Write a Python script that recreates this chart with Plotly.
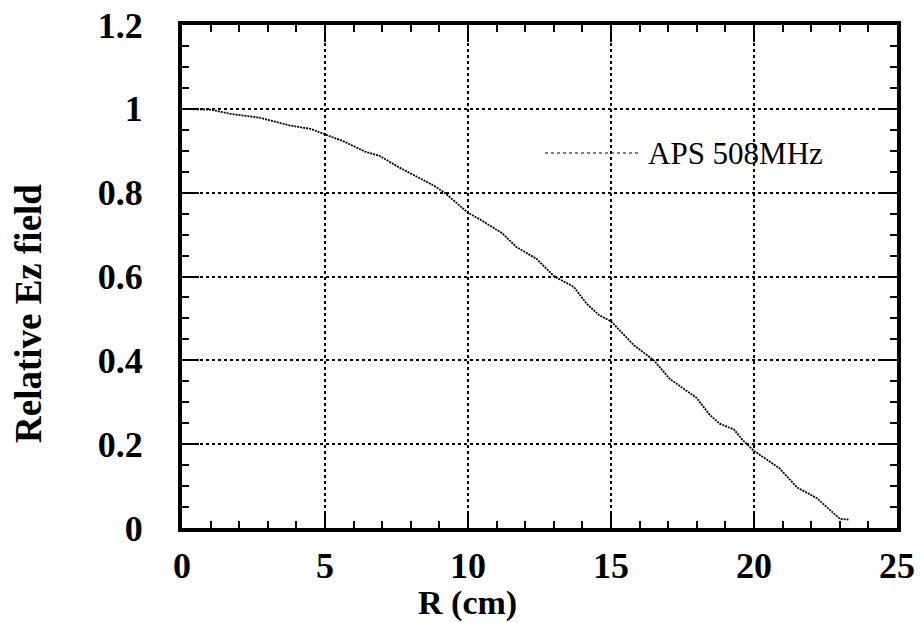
import plotly.graph_objects as go

series_name = "APS 508MHz"
r_cm = [0, 1.0, 1.7, 2.7, 3.8, 4.5, 5.0, 5.6, 6.4, 6.9, 7.6, 8.3, 8.8, 9.2, 10.0, 10.4,
        10.9, 11.2, 11.7, 12.4, 13.0, 13.7, 14.15, 14.6, 15.0, 15.3, 15.8, 16.5, 17.05,
        18.0, 18.45, 18.8, 19.3, 19.6, 20.0, 20.9, 21.5, 22.2, 22.9, 23.0, 23.3]
ez_rel = [1.0, 0.998, 0.988, 0.979, 0.960, 0.952, 0.939, 0.924, 0.898, 0.888, 0.860, 0.836,
          0.817, 0.799, 0.752, 0.737, 0.717, 0.703, 0.670, 0.642, 0.601, 0.575, 0.535, 0.507,
          0.493, 0.471, 0.436, 0.400, 0.356, 0.310, 0.270, 0.249, 0.235, 0.210, 0.184, 0.142,
          0.097, 0.071, 0.030, 0.022, 0.020]
x_ticks = [0, 5, 10, 15, 20, 25]
y_ticks = [0, 0.2, 0.4, 0.6, 0.8, 1, 1.2]
y_tick_text = ["0", "0.2", "0.4", "0.6", "0.8", "1", "1.2"]

FONT = "Liberation Serif, Times New Roman, serif"

L, T, R, B = 182, 25, 23, 95
W, H = 920, 623
PW, PH = W - L - R, H - T - B


def px(xs):
    return (xs - L) / PW


def py(ys):
    return (H - B - ys) / PH


fig = go.Figure()
fig.add_trace(go.Scatter(
    x=r_cm, y=ez_rel, mode="lines", name=series_name, showlegend=False,
    line=dict(color="black", width=1.8, dash="2px,1px"),
))

axis_common = dict(
    showline=True, linewidth=4, linecolor="black", mirror="ticks",
    ticks="inside", ticklen=17, tickwidth=1.5, tickcolor="black",
    showgrid=True, gridcolor="black", gridwidth=1.5, griddash="dot",
    zeroline=False,
    tickfont=dict(family=FONT, size=36, color="black", weight="bold"),
)

fig.update_xaxes(
    range=[0, 25], tickvals=x_ticks, ticktext=[str(v) for v in x_ticks],
    minor=dict(dtick=1, ticks="inside", ticklen=7, tickwidth=1.5, tickcolor="black", showgrid=False),
    ticklabelstandoff=3,
    **axis_common,
)
fig.update_yaxes(
    range=[0, 1.2], tickvals=y_ticks, ticktext=y_tick_text,
    minor=dict(dtick=0.05, ticks="inside", ticklen=7, tickwidth=1.5, tickcolor="black", showgrid=False),
    ticklabelstandoff=28,
    **axis_common,
)

# legend-like sample and label
fig.add_shape(type="line", xref="paper", yref="paper",
              x0=px(545), x1=px(640), y0=py(153), y1=py(153),
              line=dict(color="black", width=1.2, dash="dot"))
fig.add_annotation(text=series_name, xref="paper", yref="paper",
                   x=px(646), y=py(153),
                   xanchor="left", yanchor="middle", showarrow=False,
                   font=dict(family=FONT, size=31, color="black"))

# axis titles
fig.add_annotation(text="R (cm)", xref="paper", yref="paper",
                   x=px(467), y=py(603),
                   xanchor="center", yanchor="middle", showarrow=False,
                   font=dict(family=FONT, size=34, color="black", weight="bold"))
fig.add_annotation(text="Relative Ez field", xref="paper", yref="paper",
                   x=px(28), y=py(314), textangle=-90,
                   xanchor="center", yanchor="middle", showarrow=False,
                   font=dict(family=FONT, size=37, color="black", weight="bold"))

fig.update_layout(
    width=W, height=H,
    margin=dict(l=L, r=R, t=T, b=B, autoexpand=False),
    plot_bgcolor="white", paper_bgcolor="white",
)

fig.write_html("out.html", config={"displayModeBar": False},
               post_script="document.body.style.margin='0px';")
